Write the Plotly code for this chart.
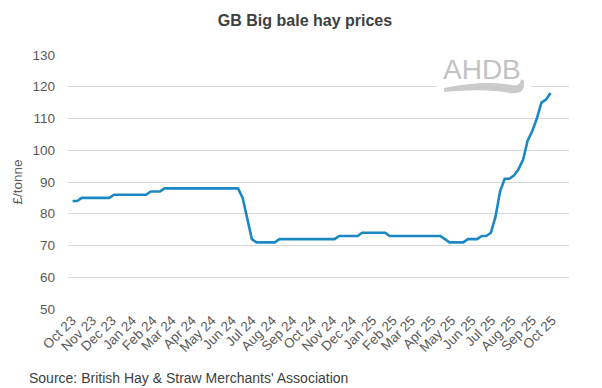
import pandas as pd
import plotly.graph_objects as go

# Weekly GB big bale hay prices (£/tonne), Oct 2023 - Oct 2025
start_date = "2023-10-02"
prices = [
    84, 84,
    85, 85, 85, 85, 85, 85, 85,
    86, 86, 86, 86, 86, 86, 86, 86,
    87, 87, 87,
    88, 88, 88, 88, 88, 88, 88, 88, 88, 88, 88, 88, 88, 88, 88, 88, 88,
    85, 78, 72,
    71, 71, 71, 71, 71,
    72, 72, 72, 72, 72, 72, 72, 72, 72, 72, 72, 72, 72,
    73, 73, 73, 73, 73,
    74, 74, 74, 74, 74, 74,
    73, 73, 73, 73, 73, 73, 73, 73, 73, 73, 73, 73,
    72,
    71, 71, 71, 71,
    72, 72, 72,
    73, 73,
    74, 79, 87, 91, 91, 92, 94, 97, 103, 106, 110, 115, 116, 118,
]
dates = pd.date_range(start=start_date, periods=len(prices), freq="7D")

title_text = "GB Big bale hay prices"
y_title = "£/tonne"
source_text = "Source: British Hay & Straw Merchants' Association"
y_ticks = [50, 60, 70, 80, 90, 100, 110, 120, 130]

FONT = "Liberation Sans, Arial, sans-serif"

fig = go.Figure()
fig.add_trace(go.Scatter(
    x=dates, y=prices, mode="lines",
    line=dict(color="#1B88C4", width=2.6),
    hoverinfo="x+y",
))

W, H = 602, 388
L, R, T, B = 68, 33, 55, 79

def px(x):
    return (x - L) / (W - L - R)

def py(y):
    return (H - B - y) / (H - T - B)

shapes = [
    # white backing behind logo (breaks gridline)
    dict(type="rect", xref="paper", yref="paper",
         x0=px(437), x1=px(531), y0=py(96), y1=py(50),
         fillcolor="white", line=dict(width=0), layer="above"),
    # logo swoosh
    dict(type="path", xref="paper", yref="paper", layer="above",
         path=("M {a},{b} Q {c},{d} {e},{f} Q {g},{h} {i},{j} L {k},{l} "
               "Q {m},{n} {o},{p} Q {q},{r} {a},{s} Z").format(
             a=px(444), b=py(88), c=px(485), d=py(80), e=px(512), f=py(85),
             g=px(520), h=py(87), i=px(521), j=py(79),
             k=px(524), l=py(81), m=px(526), n=py(95), o=px(510), p=py(93),
             q=px(485), r=py(88), s=py(92)),
         fillcolor="#cacaca", line=dict(width=0)),
]

fig.update_layout(
    width=W, height=H,
    margin=dict(l=L, r=R, t=T, b=B),
    paper_bgcolor="white", plot_bgcolor="white",
    showlegend=False,
    font=dict(family=FONT, color="#595959", size=13),
    title=dict(text="<b>" + title_text + "</b>", x=305 / W, xanchor="center",
               y=1 - 20 / H, yanchor="middle",
               font=dict(family=FONT, size=16, color="#404040")),
    xaxis=dict(
        type="date",
        range=["2023-09-25", "2025-10-27"],
        tickmode="linear", tick0="2023-10-01", dtick="M1",
        tickformat="%b %y", tickangle=-45,
        showgrid=False, zeroline=False, showline=False,
        ticks="", tickfont=dict(size=13.5, color="#595959"),
        fixedrange=True,
    ),
    yaxis=dict(
        range=[50, 130], tickvals=y_ticks,
        showgrid=True, gridcolor="#d9d9d9", gridwidth=1,
        zeroline=False, showline=False, ticks="",
        ticklabelstandoff=12,
        tickfont=dict(size=13.5, color="#595959"),
        title=dict(text=y_title, standoff=6,
                   font=dict(size=13.5, color="#595959")),
        fixedrange=True,
    ),
    shapes=shapes,
    annotations=[
        dict(text=source_text, xref="paper", yref="paper",
             x=px(27), y=py(378), xanchor="left", yanchor="middle",
             showarrow=False, font=dict(size=14, color="#404040")),
        dict(text="AHDB", xref="paper", yref="paper",
             x=px(482), y=py(69), xanchor="center", yanchor="middle",
             showarrow=False, font=dict(size=28, color="#c2c2c2",
                                        family=FONT)),
    ],
)

fig.write_html(
    "out.html",
    config={"displayModeBar": False},
    post_script="document.body.style.margin='0';document.body.style.overflow='hidden';",
)
